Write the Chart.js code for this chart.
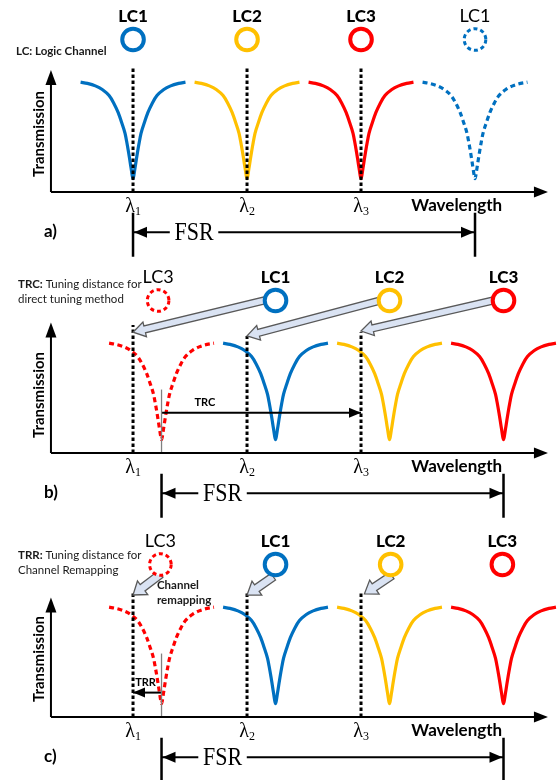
<!DOCTYPE html>
<html>
<head>
<meta charset="utf-8">
<title>Logic channel tuning</title>
<script src="https://cdn.jsdelivr.net/npm/chart.js@4.4.1/dist/chart.umd.min.js"></script>
<style>
  body { margin: 0; background: #fff; }
  .panel { position: absolute; left: 0; width: 558px; height: 260px; }
</style>
</head>
<body>
<div class="panel" style="top:0px"><canvas id="chartA" width="558" height="260"></canvas></div>
<div class="panel" style="top:260px"><canvas id="chartB" width="558" height="260"></canvas></div>
<div class="panel" style="top:520px"><canvas id="chartC" width="558" height="260"></canvas></div>
<script>
// shape of one resonance dip (offset in channel spacings, transmission)
const dipOffsets = [-0.46, -0.4, -0.33, -0.27, -0.21, -0.17, -0.13, -0.1, -0.07, -0.055, -0.04, -0.028, -0.018, -0.008, 0,
                    0.008, 0.018, 0.028, 0.04, 0.055, 0.07, 0.1, 0.13, 0.17, 0.21, 0.27, 0.33, 0.4, 0.46];
const dipValues = [0.9, 0.89, 0.87, 0.84, 0.79, 0.73, 0.65, 0.57, 0.48, 0.41, 0.33, 0.26, 0.2, 0.14, 0.11,
                   0.14, 0.2, 0.26, 0.33, 0.41, 0.48, 0.57, 0.65, 0.73, 0.79, 0.84, 0.87, 0.89, 0.9];

// wavelength grid
const lambdaX = [1, 2, 3];
const lambdaSubs = ["1", "2", "3"];

// a) logic channels on the grid, LC1 comes back one FSR later
const dipCentersA = [1, 2, 3, 4];
const dipChannelsA = ["LC1", "LC2", "LC3", "LC1"];
const dipGhostA = [false, false, false, true];
const guideTopsA = [1.03, 1.03, 1.03];
const fsrA = [1, 4];

// b) direct tuning
const dipCentersB = [1.25, 2.25, 3.25, 4.25];
const dipChannelsB = ["LC3", "LC1", "LC2", "LC3"];
const dipGhostB = [true, false, false, false];
const guideTopsB = [1.05, 0.96, 0.99];
const markerXB = [1.22, 2.25, 3.25, 4.25];
const fsrB = [1.25, 4.25];
const trcSpan = [1.25, 3];
const trcLevel = 0.33;
const tailsB = [[2.15, 1.25], [3.17, 1.25], [4.16, 1.25]];
const tipsB = [[1.0, 0.99], [2.0, 0.96], [3.0, 1.0]];

// c) channel remapping
const dipCentersC = [1.25, 2.25, 3.25, 4.25];
const dipChannelsC = ["LC3", "LC1", "LC2", "LC3"];
const dipGhostC = [true, false, false, false];
const guideTopsC = [1.02, 1.02, 1.02];
const markerXC = [1.24, 2.25, 3.26, 4.24];
const fsrC = [1.25, 4.25];
const trrSpan = [1.25, 1.0];
const trrLevel = 0.2;
const tailsC = [[1.24, 1.17], [2.23, 1.15], [3.27, 1.16]];
const tipsC = [[1.0, 1.0], [2.0, 1.0], [3.03, 1.01]];

const channelColors = { LC1: "#0070C0", LC2: "#FFC000", LC3: "#FF0000" };
const SANS = "Lato, 'Open Sans', sans-serif";
const SERIF = "'Liberation Serif', 'DejaVu Serif', serif";

function dipSets(centers, channels, ghost) {
  return centers.map((c, k) => ({
    data: dipOffsets.map((o, i) => ({ x: c + o, y: dipValues[i] })),
    borderColor: channelColors[channels[k]],
    borderWidth: 3.2,
    borderDash: ghost[k] ? [5, 3.5] : [],
    cubicInterpolationMode: "monotone",
  }));
}

function guideSets(tops) {
  return lambdaX.map((x, i) => ({
    data: [{ x: x, y: 0 }, { x: x, y: tops[i] }],
    borderColor: "#000",
    borderWidth: 3,
    borderDash: [3.5, 2.5],
  }));
}

function seg(x1, y1, x2, y2, color, width) {
  return { data: [{ x: x1, y: y1 }, { x: x2, y: y2 }], borderColor: color, borderWidth: width };
}

function head(ctx, x1, y1, x2, y2, len, half) {
  const a = Math.atan2(y2 - y1, x2 - x1);
  ctx.beginPath();
  ctx.moveTo(x2, y2);
  ctx.lineTo(x2 - len * Math.cos(a) + half * Math.sin(a), y2 - len * Math.sin(a) - half * Math.cos(a));
  ctx.lineTo(x2 - len * Math.cos(a) - half * Math.sin(a), y2 - len * Math.sin(a) + half * Math.cos(a));
  ctx.closePath();
  ctx.fill();
}

function blockArrow(ctx, x1, y1, x2, y2, sw, hw) {
  const a = Math.atan2(y2 - y1, x2 - x1);
  const L = Math.hypot(x2 - x1, y2 - y1);
  const hl = 12;
  ctx.save();
  ctx.translate(x1, y1);
  ctx.rotate(a);
  ctx.beginPath();
  ctx.moveTo(0, -sw);
  ctx.lineTo(L - hl, -sw);
  ctx.lineTo(L - hl, -hw);
  ctx.lineTo(L, 0);
  ctx.lineTo(L - hl, hw);
  ctx.lineTo(L - hl, sw);
  ctx.lineTo(0, sw);
  ctx.closePath();
  ctx.fillStyle = "#DAE3F3";
  ctx.fill();
  ctx.strokeStyle = "#595959";
  ctx.lineWidth = 1.3;
  ctx.stroke();
  ctx.restore();
}

const X0 = 0.28, X1 = 4.64;   // axis extent
const FSR_Y = -0.33, MARK_Y = 1.25;

function makePanel(p) {
  const datasets = [];
  datasets.push(...guideSets(p.guideTops));
  // axes
  datasets.push(seg(X0, 0, X1 - 0.05, 0, "#000", 2));
  datasets.push(seg(X0, 0, X0, p.axisTop - 0.05, "#000", 2));
  // FSR
  datasets.push(seg(p.fsr[0], FSR_Y, p.fsr[1], FSR_Y, "#000", 2));
  datasets.push(seg(p.fsr[0], -0.17, p.fsr[0], -0.53, "#000", 2.5));
  datasets.push(seg(p.fsr[1], -0.17, p.fsr[1], -0.53, "#000", 2.5));
  if (p.span) {
    datasets.push(seg(p.span[0], 0, p.span[0], 0.52, "#808080", 1.3));
    datasets.push(seg(p.span[0], p.spanLevel, p.span[1], p.spanLevel, "#000", 2));
  }
  datasets.push(...dipSets(p.centers, p.channels, p.ghost));
  datasets.forEach(d => { d.showLine = true; d.pointRadius = 0; d.fill = false; d.clip = false; });

  const decor = {
    id: "decor",
    afterDatasetsDraw(chart) {
      const ctx = chart.ctx;
      const px = v => chart.scales.x.getPixelForValue(v);
      const py = v => chart.scales.y.getPixelForValue(v);
      ctx.save();
      ctx.fillStyle = "#000";
      // axis heads
      head(ctx, px(X0), py(0), px(X1), py(0), 14, 5.5);
      head(ctx, px(X0), py(0), px(X0), py(p.axisTop), 15, 5.5);
      // FSR heads
      head(ctx, px(p.fsr[1]), py(FSR_Y), px(p.fsr[0]) + 1, py(FSR_Y), 13, 5.5);
      head(ctx, px(p.fsr[0]), py(FSR_Y), px(p.fsr[1]) - 1, py(FSR_Y), 13, 5.5);
      if (p.span) {
        head(ctx, px(p.span[0]), py(p.spanLevel), px(p.span[1]), py(p.spanLevel), 12, 5);
      }
      // FSR label with white box
      ctx.font = "25px " + SERIF;
      ctx.textAlign = "center";
      ctx.textBaseline = "middle";
      const fx = px(p.fsr[0]) + 61, fy = py(FSR_Y);
      const fw = ctx.measureText("FSR").width;
      ctx.fillStyle = "#fff";
      ctx.fillRect(fx - fw / 2 - 2, fy - 10, fw + 4, 20);
      ctx.fillStyle = "#000";
      ctx.save();
      ctx.translate(fx, fy + 1);
      ctx.scale(0.88, 1);
      ctx.fillText("FSR", 0, 0);
      ctx.restore();
      // panel tag
      ctx.font = "bold 17px " + SANS;
      ctx.textAlign = "left";
      ctx.fillText(p.tag, 44, fy - 1);
      // lambda labels
      lambdaX.forEach((x, i) => {
        const lx = px(x), ly = py(0) + 20;
        ctx.font = "20px " + SERIF;
        ctx.textAlign = "right";
        ctx.textBaseline = "alphabetic";
        ctx.fillText("\u03bb", lx + 2, ly);
        ctx.font = "12px " + SERIF;
        ctx.textAlign = "left";
        ctx.fillText(lambdaSubs[i], lx + 2, ly + 3);
      });
      // axis titles
      ctx.textBaseline = "middle";
      ctx.textAlign = "center";
      ctx.font = "bold 17px " + SANS;
      ctx.fillText("Wavelength", px(3.84), py(0) + 14);
      ctx.save();
      ctx.translate(39, py(0) - 58);
      ctx.rotate(-Math.PI / 2);
      ctx.font = "bold 15px " + SANS;
      ctx.fillText("Transmission", 0, 0);
      ctx.restore();
      // tuning labels
      if (p.spanLabel) {
        ctx.font = "bold 11px " + SANS;
        ctx.fillText(p.spanLabel, px(p.spanLabelX), py(p.spanLevel) - 10);
      }
      // block arrows
      if (p.tails) {
        p.tails.forEach((t, i) => {
          blockArrow(ctx, px(t[0]), py(t[1]), px(p.tips[i][0]), py(p.tips[i][1]), p.shaft, p.headW);
        });
      }
      // channel rings and names
      p.markerX.forEach((x, i) => {
        const ch = p.channels[i], cx = px(x), cy = py(MARK_Y);
        ctx.beginPath();
        ctx.arc(cx, cy, 10.8, 0, Math.PI * 2);
        ctx.fillStyle = "#fff";
        ctx.fill();
        ctx.strokeStyle = channelColors[ch];
        ctx.lineWidth = p.ghost[i] ? 3 : 4;
        ctx.setLineDash(p.ghost[i] ? [4, 3] : []);
        ctx.stroke();
        ctx.setLineDash([]);
        ctx.fillStyle = "#000";
        ctx.font = (p.ghost[i] ? "18px " : "900 17px ") + SANS;
        ctx.textAlign = "center";
        ctx.fillText(ch, cx, cy - 23);
      });
      // notes
      ctx.textAlign = "left";
      ctx.fillStyle = "#1a1a1a";
      p.notes.forEach(n => {
        let x = n.x;
        if (n.bold) {
          ctx.font = "bold 11.5px " + SANS;
          ctx.fillText(n.bold, x, n.y);
          x += ctx.measureText(n.bold).width;
        }
        if (n.text) {
          ctx.font = (n.allBold ? "bold " : "") + "11.5px " + SANS;
          ctx.fillText(n.text, x, n.y);
        }
      });
      ctx.restore();
    }
  };

  new Chart(document.getElementById(p.id), {
    type: "scatter",
    data: { datasets: datasets },
    options: {
      responsive: false,
      animation: false,
      events: [],
      layout: { padding: 0 },
      scales: {
        x: { type: "linear", display: false, min: -0.167, max: 4.728 },
        y: { type: "linear", display: false, min: -(260 - p.axisPx) / 122, max: p.axisPx / 122 },
      },
      plugins: { legend: { display: false }, tooltip: { enabled: false } },
    },
    plugins: [decor],
  });
}

makePanel({
  id: "chartA", tag: "a)", axisPx: 192, axisTop: 1.0,
  centers: dipCentersA, channels: dipChannelsA, ghost: dipGhostA,
  guideTops: guideTopsA, markerX: dipCentersA, fsr: fsrA,
  notes: [{ x: 16, y: 51, bold: "LC: Logic Channel" }],
});

makePanel({
  id: "chartB", tag: "b)", axisPx: 193, axisTop: 1.07,
  centers: dipCentersB, channels: dipChannelsB, ghost: dipGhostB,
  guideTops: guideTopsB, markerX: markerXB, fsr: fsrB,
  span: trcSpan, spanLevel: trcLevel, spanLabel: "TRC", spanLabelX: 1.63,
  tails: tailsB, tips: tipsB, shaft: 3.5, headW: 7.5,
  notes: [
    { x: 18, y: 24, bold: "TRC:", text: " Tuning distance for" },
    { x: 18, y: 39, text: "direct tuning method" },
  ],
});

makePanel({
  id: "chartC", tag: "c)", axisPx: 197, axisTop: 0.98,
  centers: dipCentersC, channels: dipChannelsC, ghost: dipGhostC,
  guideTops: guideTopsC, markerX: markerXC, fsr: fsrC,
  span: trrSpan, spanLevel: trrLevel, spanLabel: "TRR", spanLabelX: 1.11,
  tails: tailsC, tips: tipsC, shaft: 4, headW: 8.5,
  notes: [
    { x: 18, y: 35, bold: "TRR:", text: " Tuning distance for" },
    { x: 18, y: 50, text: "Channel Remapping" },
    { x: 157, y: 65, text: "Channel", allBold: true },
    { x: 157, y: 80, text: "remapping", allBold: true },
  ],
});
</script>
</body>
</html>
